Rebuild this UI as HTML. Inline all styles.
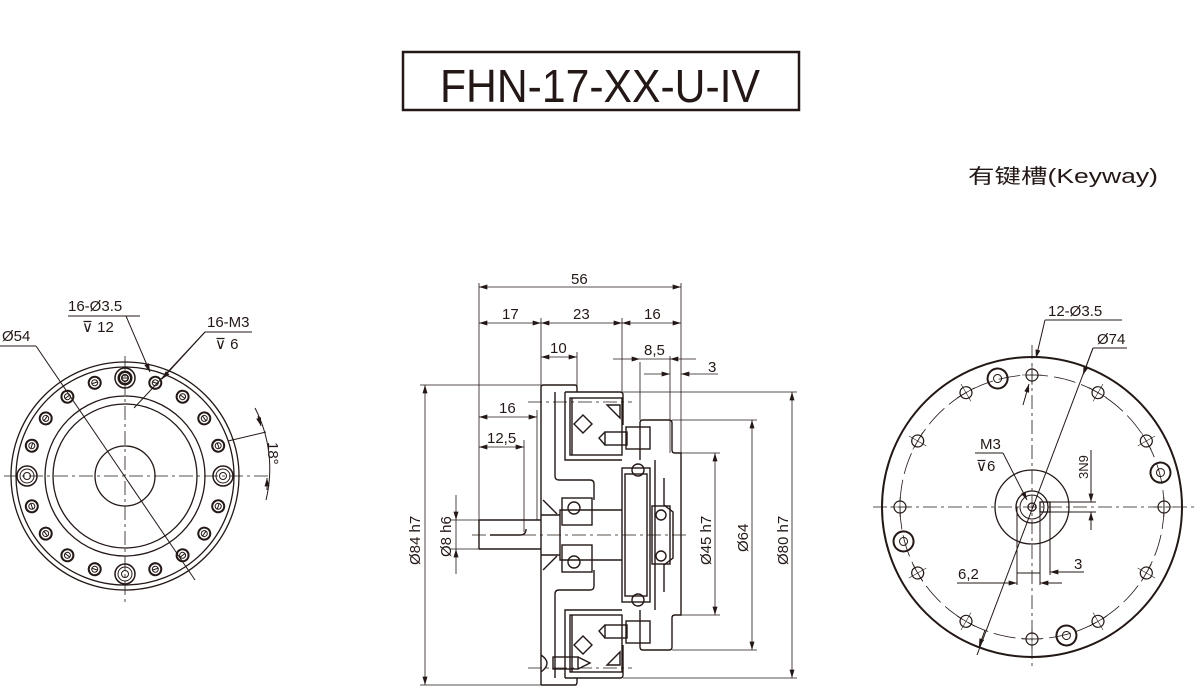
<!DOCTYPE html>
<html><head><meta charset="utf-8"><style>
html,body{margin:0;padding:0;background:#fff;}
svg{display:block;}
text{font-family:"Liberation Sans","Noto Sans CJK SC",sans-serif;fill:#231815;}
</style></head><body>
<svg width="1200" height="688" viewBox="0 0 1200 688" xmlns="http://www.w3.org/2000/svg">
<defs>
<marker id="a" viewBox="0 0 10 6" refX="10" refY="3" markerWidth="9" markerHeight="5" orient="auto-start-reverse" markerUnits="userSpaceOnUse"><path d="M0,0 L10,3 L0,6 z" fill="#231815"/></marker>
</defs>
<rect x="403" y="52" width="396" height="58" fill="none" stroke="#231815" stroke-width="2.5"/>
<text x="440" y="102" font-size="46" textLength="320" lengthAdjust="spacingAndGlyphs">FHN-17-XX-U-IV</text>
<text x="968" y="183" font-size="20" textLength="190" lengthAdjust="spacingAndGlyphs">有键槽(Keyway)</text>

<g fill="none" stroke="#231815" stroke-width="1">
<!-- LEFT VIEW -->
<g stroke-width="1.3">
<circle cx="125" cy="476" r="114"/><circle cx="125" cy="476" r="109"/>
<circle cx="125" cy="476" r="80"/><circle cx="125" cy="476" r="72"/>
<circle cx="125" cy="476" r="30"/>
</g>
<g stroke-dasharray="14,4,3,4" stroke-width="0.8">
<line x1="4" y1="476" x2="272" y2="476"/><line x1="125" y1="356" x2="125" y2="602"/>
</g>
<g transform="translate(125,476)">
<g id="lh"><circle cx="0" cy="-98" r="6" stroke-width="2"/><circle cx="0" cy="-98" r="3"/><line x1="-3" y1="-98" x2="3" y2="-98"/></g>
<g transform="rotate(18)"><use href="#lh"/></g><g transform="rotate(36)"><use href="#lh"/></g><g transform="rotate(54)"><use href="#lh"/></g><g transform="rotate(72)"><use href="#lh"/></g>
<g transform="rotate(108)"><use href="#lh"/></g><g transform="rotate(126)"><use href="#lh"/></g><g transform="rotate(144)"><use href="#lh"/></g><g transform="rotate(162)"><use href="#lh"/></g>
<g transform="rotate(198)"><use href="#lh"/></g><g transform="rotate(216)"><use href="#lh"/></g><g transform="rotate(234)"><use href="#lh"/></g><g transform="rotate(252)"><use href="#lh"/></g>
<g transform="rotate(288)"><use href="#lh"/></g><g transform="rotate(306)"><use href="#lh"/></g><g transform="rotate(324)"><use href="#lh"/></g><g transform="rotate(342)"><use href="#lh"/></g>
<g id="lb"><circle cx="0" cy="-98" r="10" stroke-width="1.5"/><circle cx="0" cy="-98" r="7"/><circle cx="0" cy="-98" r="3.5"/></g>
<g transform="rotate(90)"><use href="#lb"/></g><g transform="rotate(180)"><use href="#lb"/></g><g transform="rotate(270)"><use href="#lb"/></g>
</g>
<line x1="0" y1="346" x2="36" y2="346"/><line x1="36" y1="346" x2="195" y2="580"/>
<line x1="68" y1="316" x2="140" y2="316"/><line x1="126" y1="316" x2="150" y2="372" marker-end="url(#a)"/>
<line x1="205" y1="332" x2="252" y2="332"/><line x1="205" y1="332" x2="134" y2="408"/><line x1="205" y1="332" x2="162" y2="379" marker-end="url(#a)"/>
<line x1="228" y1="441" x2="266" y2="432"/>
<path d="M255,408 A132,132 0 0 1 266,500"/>
<line x1="258" y1="416" x2="261" y2="426" marker-end="url(#a)"/><line x1="267" y1="490" x2="267" y2="478" marker-end="url(#a)"/>
</g>
<g font-size="15">
<text x="2" y="341">Ø54</text>
<text x="68" y="311">16-Ø3.5</text>
<text x="82" y="332">⊽ 12</text>
<text x="207" y="327">16-M3</text>
<text x="215" y="349">⊽ 6</text>
<text transform="translate(268,442) rotate(90)">18°</text>
</g>

<!-- MIDDLE VIEW -->
<g fill="none" stroke="#231815" stroke-width="0.8">
<line x1="479" y1="283" x2="479" y2="520"/><line x1="681" y1="283" x2="681" y2="453"/>
<line x1="541" y1="318" x2="541" y2="385"/><line x1="622" y1="318" x2="622" y2="392"/>
<line x1="577" y1="352" x2="577" y2="386"/><line x1="640" y1="362" x2="640" y2="420"/><line x1="670" y1="356" x2="670" y2="453"/>
<line x1="479" y1="287" x2="681" y2="287" marker-start="url(#a)" marker-end="url(#a)"/>
<line x1="479" y1="323" x2="541" y2="323" marker-start="url(#a)" marker-end="url(#a)"/>
<line x1="541" y1="323" x2="622" y2="323" marker-start="url(#a)" marker-end="url(#a)"/>
<line x1="622" y1="323" x2="681" y2="323" marker-start="url(#a)" marker-end="url(#a)"/>
<line x1="541" y1="357" x2="577" y2="357" marker-start="url(#a)" marker-end="url(#a)"/>
<line x1="613" y1="359" x2="640" y2="359" marker-end="url(#a)"/><line x1="696" y1="359" x2="670" y2="359" marker-end="url(#a)"/><line x1="640" y1="359" x2="670" y2="359"/>
<line x1="644" y1="374" x2="670" y2="374" marker-end="url(#a)"/><line x1="718" y1="374" x2="681" y2="374" marker-end="url(#a)"/>
<line x1="479" y1="417" x2="537" y2="417" marker-start="url(#a)" marker-end="url(#a)"/><line x1="537" y1="410" x2="537" y2="520"/>
<line x1="479" y1="447" x2="524" y2="447" marker-start="url(#a)" marker-end="url(#a)"/><line x1="524" y1="440" x2="524" y2="532"/>
<line x1="420" y1="385" x2="541" y2="385"/><line x1="420" y1="685" x2="541" y2="685"/>
<line x1="425" y1="385" x2="425" y2="685" marker-start="url(#a)" marker-end="url(#a)"/>
<line x1="450" y1="520" x2="479" y2="520"/><line x1="450" y1="549" x2="479" y2="549"/>
<line x1="456" y1="495" x2="456" y2="520" marker-end="url(#a)"/><line x1="456" y1="574" x2="456" y2="549" marker-end="url(#a)"/><line x1="456" y1="520" x2="456" y2="549"/>
<line x1="681" y1="453" x2="720" y2="453"/><line x1="681" y1="615" x2="720" y2="615"/>
<line x1="715" y1="453" x2="715" y2="615" marker-start="url(#a)" marker-end="url(#a)"/>
<line x1="672" y1="420" x2="757" y2="420"/><line x1="672" y1="650" x2="757" y2="650"/>
<line x1="752" y1="420" x2="752" y2="650" marker-start="url(#a)" marker-end="url(#a)"/>
<line x1="623" y1="392" x2="797" y2="392"/><line x1="623" y1="678" x2="797" y2="678"/>
<line x1="792" y1="392" x2="792" y2="678" marker-start="url(#a)" marker-end="url(#a)"/>
<line x1="472" y1="535" x2="690" y2="535" stroke-dasharray="14,4,3,4"/>
<line x1="528" y1="402" x2="632" y2="402" stroke-dasharray="14,4,3,4"/>
<line x1="528" y1="668" x2="632" y2="668" stroke-dasharray="14,4,3,4"/>
</g>
<g fill="none" stroke="#231815" stroke-width="1.4">
<path d="M479,520 H541 M479,549 H541 M479,520 V549 M490,535 H520 Q526,535 526,529"/>
<path d="M541,515 H560 V510 H622 M541,555 H560 V560 H622 M560,510 V560"/>
<path d="M541,685 V387 Q541,385 544,385 H575 Q577,385 577,388 V392"/>
<path d="M541,685 H575 Q577,685 577,682 V678"/>
<path d="M565,392 H620 Q623,392 623,395 V425 M565,678 H620 Q623,678 623,675 V645"/>
<path d="M555,392 V476 Q555,480 559,480 H590 Q594,480 594,484 V500 M555,678 V594 Q555,590 559,590 H590 Q594,590 594,586 V570"/>
<path d="M565,392 V460 H622 M572,398 V455 M565,678 V610 H622 M572,672 V615"/>
<rect x="570" y="398" width="52" height="57"/><rect x="570" y="615" width="52" height="57"/>
<path d="M583,415 L592,424 L583,433 L574,424 Z M583,636 L592,645 L583,654 L574,645 Z"/>
<path d="M607,405 L620,405 L620,418 Z M607,665 L620,665 L620,652 Z"/>
<path d="M640,460 V423 Q640,420 643,420 H669 Q672,420 672,423 V450 Q672,453 675,453 H681 V615 H675 Q672,615 672,618 V647 Q672,650 669,650 H643 Q640,650 640,647 V610"/>
<path d="M655,460 V535 V610 M664,478 V505 L673,512 V558 L664,565 V592"/>
<rect x="605" y="432" width="22" height="13"/><rect x="626" y="427" width="24" height="22"/>
<path d="M605,432 L599,438 L605,445"/>
<rect x="605" y="625" width="22" height="13"/><rect x="626" y="621" width="24" height="22"/>
<path d="M605,625 L599,631 L605,638"/>
<rect x="553" y="657" width="25" height="12"/><path d="M578,657 L590,663 L578,669 M541,655 Q553,663 541,672"/>
<rect x="622" y="468" width="28" height="134"/><rect x="625" y="474" width="22" height="122"/>
<circle cx="638" cy="470" r="6"/><circle cx="638" cy="600" r="6"/>
<rect x="562" y="498" width="30" height="27"/><circle cx="574" cy="508" r="6"/>
<rect x="562" y="545" width="30" height="27"/><circle cx="574" cy="562" r="6"/>
<path d="M543,500 L557,514 M543,570 L557,556"/>
<rect x="652" y="506" width="18" height="58"/><circle cx="661" cy="515" r="5"/><circle cx="661" cy="556" r="5"/>
</g>
<g font-size="15">
<text x="571" y="284">56</text>
<text x="502" y="319">17</text>
<text x="573" y="319">23</text>
<text x="644" y="319">16</text>
<text x="550" y="353">10</text>
<text x="644" y="355">8,5</text>
<text x="708" y="372">3</text>
<text x="499" y="413">16</text>
<text x="487" y="443">12,5</text>
<text transform="translate(420,565) rotate(-90)">Ø84 h7</text>
<text transform="translate(451,557) rotate(-90)">Ø8 h6</text>
<text transform="translate(711,565) rotate(-90)">Ø45 h7</text>
<text transform="translate(748,552) rotate(-90)">Ø64</text>
<text transform="translate(788,565) rotate(-90)">Ø80 h7</text>
</g>

<!-- RIGHT VIEW -->
<g fill="none" stroke="#231815" stroke-width="1">
<circle cx="1032" cy="507" r="150" stroke-width="2"/>
<circle cx="1032" cy="507" r="132" stroke-dasharray="22,6" stroke-width="0.8"/>
<circle cx="1032" cy="507" r="37" stroke-width="1.3"/>
<circle cx="1032" cy="507" r="16" stroke-width="1.3"/><circle cx="1032" cy="507" r="12"/>
<circle cx="1032" cy="507" r="4" stroke-width="1.3"/>
<rect x="1040" y="502" width="10" height="10" stroke-width="1.3"/>
<g stroke-dasharray="14,4,3,4" stroke-width="0.8">
<line x1="873" y1="507" x2="1196" y2="507"/><line x1="1032" y1="345" x2="1032" y2="670"/>
</g>
<g transform="translate(1032,507)">
<g id="rh"><circle cx="0" cy="-132" r="6" stroke-width="1.2"/><line x1="-10" y1="-132" x2="10" y2="-132" stroke-width="0.6"/><line x1="0" y1="-142" x2="0" y2="-122" stroke-width="0.6"/></g>
<g transform="rotate(30)"><use href="#rh"/></g><g transform="rotate(60)"><use href="#rh"/></g><g transform="rotate(90)"><use href="#rh"/></g><g transform="rotate(120)"><use href="#rh"/></g><g transform="rotate(150)"><use href="#rh"/></g><g transform="rotate(180)"><use href="#rh"/></g><g transform="rotate(210)"><use href="#rh"/></g><g transform="rotate(240)"><use href="#rh"/></g><g transform="rotate(270)"><use href="#rh"/></g><g transform="rotate(300)"><use href="#rh"/></g><g transform="rotate(330)"><use href="#rh"/></g>
<g id="rb" transform="rotate(-15)"><circle cx="0" cy="-133" r="10" stroke-width="2"/><circle cx="0" cy="-133" r="4"/></g>
<g transform="rotate(90)"><use href="#rb"/></g><g transform="rotate(180)"><use href="#rb"/></g><g transform="rotate(270)"><use href="#rb"/></g>
</g>
<line x1="1045" y1="320" x2="1122" y2="320"/><line x1="1045" y1="320" x2="1036" y2="358" marker-end="url(#a)"/><line x1="1023" y1="405" x2="1029" y2="384" marker-end="url(#a)"/>
<line x1="1093" y1="348" x2="1127" y2="348"/><line x1="1093" y1="348" x2="977" y2="655"/>
<line x1="1093" y1="348" x2="1083" y2="375" marker-end="url(#a)"/><line x1="985" y1="630" x2="979" y2="647" marker-end="url(#a)"/>
<line x1="975" y1="453" x2="1003" y2="453"/><line x1="1003" y1="453" x2="1027" y2="500" marker-end="url(#a)"/>
<line x1="1050" y1="502" x2="1096" y2="502"/><line x1="1050" y1="512" x2="1096" y2="512"/>
<line x1="1091" y1="450" x2="1091" y2="502" marker-end="url(#a)"/><line x1="1091" y1="530" x2="1091" y2="512" marker-end="url(#a)"/>
<line x1="1017" y1="507" x2="1017" y2="585"/><line x1="1040" y1="507" x2="1040" y2="585"/><line x1="1050" y1="512" x2="1050" y2="575"/>
<line x1="957" y1="583" x2="1017" y2="583" marker-end="url(#a)"/><line x1="1062" y1="583" x2="1040" y2="583" marker-end="url(#a)"/>
<line x1="1017" y1="573" x2="1040" y2="573"/><line x1="1084" y1="572" x2="1050" y2="572" marker-end="url(#a)"/>
</g>
<g font-size="15">
<text x="1048" y="316">12-Ø3.5</text>
<text x="1097" y="344">Ø74</text>
<text x="980" y="449">M3</text>
<text x="976" y="471">⊽6</text>
<text transform="translate(1088,479) rotate(-90)" font-size="13">3N9</text>
<text x="958" y="579">6,2</text>
<text x="1074" y="569">3</text>
</g>
</svg>
</body></html>
